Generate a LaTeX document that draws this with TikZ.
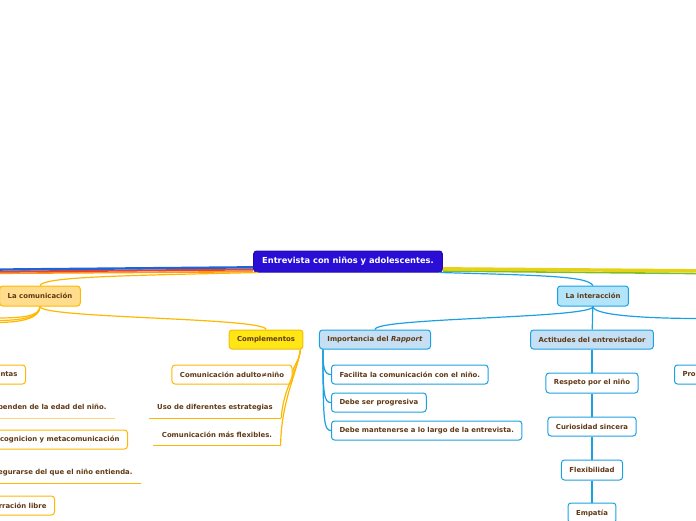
\documentclass[tikz,border=0pt]{standalone}
\usepackage{fontspec}
\setmainfont{DejaVu Sans}
\usepackage{tikz}
\usetikzlibrary{positioning}
\definecolor{topicfill}{RGB}{43,14,214}
\definecolor{topicdraw}{RGB}{32,10,175}
\definecolor{nodetext}{RGB}{96,56,20}
\definecolor{goldline}{RGB}{255,184,0}
\definecolor{lightgold}{RGB}{255,212,120}
\definecolor{commfill}{RGB}{255,221,140}
\definecolor{compfill}{RGB}{255,230,20}
\definecolor{compdraw}{RGB}{240,190,10}
\definecolor{skyline}{RGB}{27,161,226}
\definecolor{skyfill}{RGB}{178,228,250}
\definecolor{paleblue}{RGB}{197,224,244}
\definecolor{mainblue}{RGB}{30,100,215}
\definecolor{mainred}{RGB}{232,66,40}
\definecolor{mainorange}{RGB}{255,150,30}
\definecolor{mainyellow}{RGB}{230,210,20}
\definecolor{maingreen}{RGB}{125,190,40}
\tikzstyle{topic}=[draw=topicdraw, fill=topicfill, rounded corners=3pt, text=white, inner xsep=8.5pt, inner ysep=0pt, minimum height=21pt, font=\fontsize{8.3}{9}\selectfont\bfseries]
\tikzstyle{mmbox}=[draw, rounded corners=3pt, line width=1pt, inner xsep=8pt, inner ysep=0pt, minimum height=19pt, text=nodetext, font=\fontsize{6.9}{8}\selectfont\bfseries]
\tikzstyle{commhead}=[mmbox, draw=goldline, fill=commfill, minimum height=20pt]
\tikzstyle{comphead}=[mmbox, draw=compdraw, fill=compfill]
\tikzstyle{orbox}=[mmbox, draw=goldline, fill=white]
\tikzstyle{oritem}=[mmbox, draw=none]
\tikzstyle{interhead}=[mmbox, draw=skyline, fill=skyfill, minimum height=20pt]
\tikzstyle{bluesub}=[mmbox, draw=skyline, fill=paleblue]
\tikzstyle{blbox}=[mmbox, draw=skyline, fill=white]
\tikzset{%
    oconn/.style={draw=goldline, line width=1.2pt},
    bconn/.style={draw=skyline, line width=1.2pt},
    underl/.style={draw=goldline, line width=1pt},
    branch/.style={line width=2pt},
  }
\begin{document}
\begin{tikzpicture}[x=1pt, y=1pt, node distance=43.5pt, line width=1pt]
    \useasboundingbox (0,0) rectangle (696,-520);
    \node (central) [topic] at (348,-261.5) {Entrevista con niños y adolescentes.};
    %
    \node (comm) [commhead, below of=central, node distance=34.5pt, xshift=-308pt] {La comunicación};
    \node (compl) [comphead, right of=comm, node distance=226pt, yshift=-43.5pt] {Complementos};
    \node (adulto) [orbox, below of=compl, node distance=35pt, xshift=-34pt] {Comunicación adulto≠niño};
    \node (uso) [oritem, below of=adulto, node distance=33.5pt, xshift=-17pt] {Uso de diferentes estrategias};
    \draw [underl] (uso.south west) -- (uso.south east);
    \node (flexib) [oritem, below of=uso, node distance=27pt, xshift=2pt] {Comunicación más flexibles.};
    \draw [underl] (flexib.south west) -- (flexib.south east);
    %
    \node (preg) [orbox, anchor=east] at (26,-374.5) {untas};
    \node (edad) [oritem, anchor=east] at (115,-408) {penden de la edad del niño.};
    \draw [underl, draw=lightgold] (edad.south west) -- (edad.south east);
    \node (metac) [orbox, anchor=east] at (128,-439.5) {cognicion y metacomunicación};
    \node (entiende) [oritem, anchor=east] at (141,-473) {egurarse del que el niño entienda.};
    \draw [underl] (entiende.south west) -- (entiende.south east);
    \node (narr) [orbox, anchor=east] at (55,-505.5) {rración libre};
    %
    \node (inter) [interhead, right of=comm, node distance=553pt] {La interacción};
    \node (rapport) [bluesub, below of=inter, xshift=-218pt] {Importancia del \textit{Rapport}};
    \node (actit) [bluesub, below of=inter, xshift=-1pt] {Actitudes del entrevistador};
    \node (facil) [blbox, anchor=west] at (331,-374.5) {Facilita la comunicación con el niño.};
    \node (progr) [blbox, anchor=west] at (331,-402.5) {Debe ser progresiva};
    \node (mant) [blbox, anchor=west] at (331,-430.5) {Debe mantenerse a lo largo de la entrevista.};
    \node (resp) [blbox, below of=actit, minimum height=20pt] {Respeto por el niño};
    \node (curio) [blbox, below of=resp] {Curiosidad sincera};
    \node (flexi) [blbox, below of=curio, minimum height=20pt] {Flexibilidad};
    \node (empat) [blbox, below of=flexi, node distance=43pt, minimum height=20pt] {Empatía};
    \node (proc) [blbox, anchor=west, text width=40pt, align=left] at (674,-374.5) {Pro};
    %
    \coordinate (farblue) at (-4,-269.6);
    \coordinate (farred) at (-4,-271.7);
    \coordinate (farorange) at (-4,-273.3);
    \coordinate (faryellow) at (700,-270.8);
    \coordinate (fargreen) at (700,-273.6);
    \draw [branch, draw=mainorange, line width=1.6pt] ([yshift=0.8pt]central.south west) -- (farorange);
    \draw [branch, draw=mainred] ([yshift=3pt]central.south west) -- (farred);
    \draw [branch, draw=mainblue, line width=2.4pt] ([yshift=5.2pt]central.south west) -- (farblue);
    \draw [branch, draw=maingreen, line width=1.6pt] ([yshift=1.5pt]central.south east) -- (fargreen);
    \draw [branch, draw=mainyellow, line width=3.4pt] ([yshift=3.7pt]central.south east) -- (faryellow);
    %
    \draw [oconn] ([xshift=5pt]central.south west) .. controls +(-130,-3) and +(4,9) .. (comm.north);
    \draw [bconn] ([xshift=-3pt]central.south east) .. controls +(110,-3) and +(-6,9) .. (inter.north);
    %
    \coordinate (farcomm1) at (-4,-318);
    \coordinate (farcomm2) at (-4,-320.5);
    \coordinate (farcomm3) at (-4,-322.5);
    \draw [oconn] (comm.south) .. controls +(0,-10) and +(25,0) .. (farcomm1);
    \draw [oconn] (comm.south) .. controls +(0,-11) and +(25,0) .. (farcomm2);
    \draw [oconn] (comm.south) .. controls +(0,-12) and +(25,0) .. (farcomm3);
    \draw [oconn] (comm.south) .. controls +(0,-12) and +(0,12) .. (compl.north);
    \draw [oconn] ([xshift=-3pt]compl.south east) .. controls +(-1,-12) and +(2,10) .. ([yshift=2pt]adulto.east);
    \draw [oconn] ([xshift=-3pt]compl.south east) .. controls +(-4,-25) and +(2,30) .. (uso.south east);
    \draw [oconn] ([xshift=-3pt]compl.south east) .. controls +(-4,-25) and +(1,45) .. (flexib.south east);
    %
    \coordinate (farinter) at (700,-318.5);
    \draw [bconn] (inter.south) .. controls +(0,-10) and +(-40,0) .. (farinter);
    \draw [bconn] (inter.south) .. controls +(0,-12) and +(0,12) .. (rapport.north);
    \draw [bconn] (inter) -- (actit);
    \draw [bconn] ([xshift=4pt]rapport.south west) .. controls +(0,-18) and +(-7,0) .. (facil.west);
    \draw [bconn] ([xshift=4pt]rapport.south west) .. controls +(0,-45) and +(-7,0) .. (progr.west);
    \draw [bconn] ([xshift=4pt]rapport.south west) .. controls +(0,-72) and +(-7,0) .. (mant.west);
    \draw [bconn] (actit) -- (resp);
    \draw [bconn] (resp) -- (curio);
    \draw [bconn] (curio) -- (flexi);
    \draw [bconn] (flexi) -- (empat);
  \end{tikzpicture}
\end{document}
